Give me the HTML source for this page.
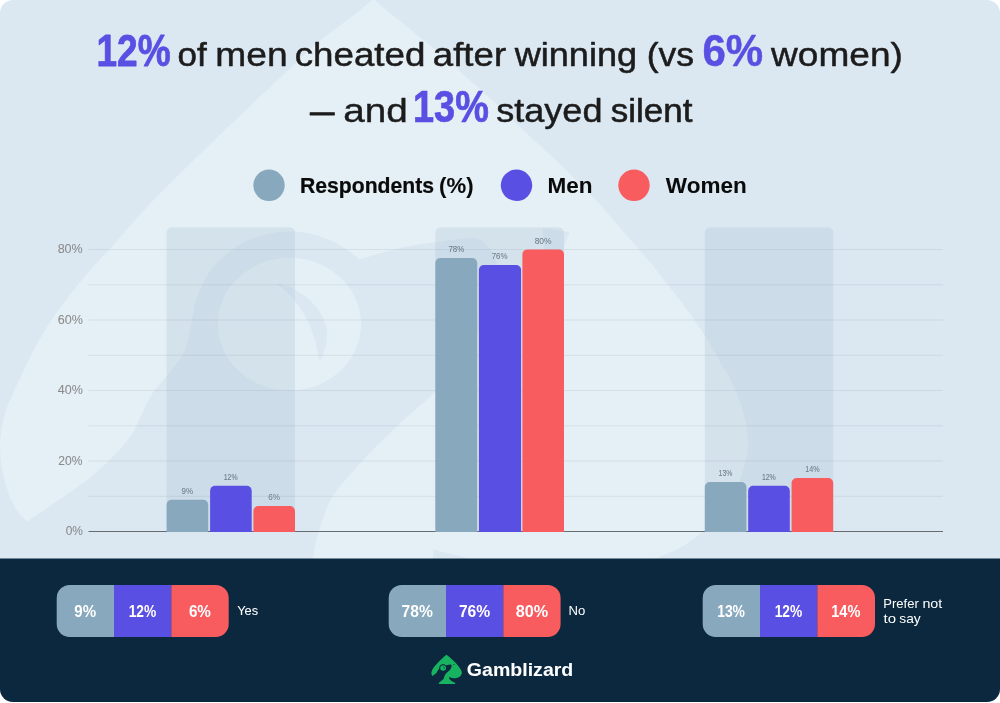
<!DOCTYPE html>
<html lang="en"><head><meta charset="utf-8"><title>Gamblizard survey chart</title>
<style>
html,body{margin:0;padding:0;background:#fff}
body{width:1000px;height:703px;overflow:hidden}
svg{display:block}
text{font-family:"Liberation Sans",sans-serif;stroke-linejoin:round;stroke-width:0}
.t{font-size:33px;fill:#1c1c1c;stroke:#1c1c1c;font-weight:400}
.n{font-size:43.5px;fill:#5a4fe3;stroke:#5a4fe3;font-weight:700}
.lg{font-size:21.6px;font-weight:700;fill:#0a0a0a;stroke:#0a0a0a}
.ax{font-size:13.5px;fill:#8a8a8a;stroke:#8a8a8a}
.bl{font-size:8.9px;fill:#6d7f8d;stroke:#6d7f8d}
.pv{font-size:15.7px;font-weight:700;fill:#fff;stroke:#fff}
.pl{font-size:12.7px;fill:#fff;stroke:#fff}
.brand{font-size:18.2px;font-weight:700;fill:#fff;stroke:#fff}
</style></head>
<body>
<svg width="1000" height="703" viewBox="0 0 1000 703">
<defs><clipPath id="card"><rect x="0" y="0" width="1000" height="702" rx="13" ry="13"/></clipPath></defs>
<g clip-path="url(#card)">
<rect x="0" y="0" width="1000" height="703" fill="#dbe8f2"/>
<g id="wm">
<path fill-rule="evenodd" fill="#e5eff6" d="M373.4 -0.6C377.2 2.5 388.2 11.7 396.0 18.0C403.8 24.3 412.0 30.8 420.0 37.2C428.0 43.6 435.8 49.4 444.0 56.4C452.2 63.4 460.3 71.7 469.0 79.5C477.7 87.3 487.0 95.1 496.0 103.5C505.0 111.9 514.2 121.5 523.2 130.0C532.2 138.6 542.2 147.5 550.0 154.8C557.8 162.1 562.7 166.8 570.0 174.0C577.3 181.2 586.3 189.8 594.0 198.0C601.7 206.2 608.7 214.7 616.0 223.0C623.3 231.3 632.2 241.8 637.6 248.0C643.0 254.2 643.5 254.1 648.4 260.0C653.3 265.9 660.3 275.3 666.8 283.6C673.3 291.9 680.8 301.3 687.2 310.0C693.6 318.7 699.9 327.7 705.2 336.0C710.5 344.3 714.7 352.5 719.0 360.0C723.3 367.5 727.4 373.4 731.1 381.0C734.8 388.6 738.6 396.4 741.4 405.6C744.2 414.8 746.9 427.9 747.8 436.4C748.6 444.9 748.0 449.1 746.5 456.8C745.0 464.5 742.6 473.9 738.8 482.4C734.9 490.9 729.4 499.9 723.4 508.0C717.4 516.1 709.8 524.6 703.0 531.0C696.2 537.4 690.2 542.0 682.5 546.5C674.8 551.0 667.2 553.9 656.8 558.0C646.4 562.1 634.5 567.7 620.0 571.0C605.5 574.3 586.7 577.7 570.0 578.0C553.3 578.3 537.5 576.4 520.0 573.0C502.5 569.6 479.5 561.5 465.0 557.5C450.5 553.5 438.2 550.6 432.8 549.2C433.5 554.3 433.3 569.9 437.0 580.0C440.7 590.1 446.8 600.3 455.0 610.0C463.2 619.7 473.5 629.3 486.0 638.0C498.5 646.7 516.0 655.0 530.0 662.0C544.0 669.0 561.0 675.3 570.0 680.0C579.0 684.7 581.7 688.3 584.0 690.0L584.0 718.7L185.3 718.7L185.3 688.0C191.9 682.5 212.2 665.7 225.0 655.0C237.8 644.3 252.0 631.4 262.0 623.6C272.0 615.8 277.8 614.4 285.0 608.0C292.2 601.6 300.4 593.3 305.0 585.0C309.6 576.7 311.1 564.8 312.8 558.0C314.5 551.2 313.7 550.6 315.4 544.0C317.1 537.4 320.0 526.4 323.0 518.3C326.0 510.2 326.9 504.7 333.3 495.3C339.7 485.9 350.8 473.5 361.5 462.0C372.2 450.5 384.9 437.9 397.3 426.1C409.7 414.4 429.4 397.3 435.8 391.5C443.2 381.2 469.8 348.6 480.0 330.0C490.2 311.4 494.5 291.9 497.0 280.0C499.5 268.1 496.5 264.1 494.8 258.3C493.1 252.6 490.4 248.8 487.0 245.5C483.6 242.2 482.4 238.9 474.3 238.3C466.2 237.7 450.8 240.1 438.4 241.7C426.0 243.3 413.2 245.0 400.0 248.0C386.8 251.0 365.9 257.8 359.1 259.7C357.9 258.6 355.2 255.7 351.7 253.1C348.2 250.5 344.1 247.0 337.9 243.9C331.7 240.8 322.6 236.8 314.5 234.7C306.4 232.6 297.8 231.5 289.5 231.5C281.2 231.5 272.6 232.6 264.5 234.7C256.4 236.8 248.4 239.9 241.2 243.9C234.0 247.9 227.0 253.0 221.1 258.6C215.2 264.2 210.0 270.9 205.8 277.8C201.6 284.7 198.1 294.6 196.1 300.1C194.1 305.7 195.0 304.7 193.7 311.1C192.4 317.5 190.3 330.8 188.3 338.3C186.3 345.8 186.0 349.4 181.9 356.2C177.8 363.0 169.1 372.8 164.0 379.3C158.9 385.8 154.9 389.3 151.1 395.4C147.2 401.5 144.3 409.1 140.9 415.9C137.5 422.7 136.2 428.6 130.6 436.3C125.0 444.0 116.6 453.4 107.6 462.0C98.6 470.6 90.2 477.7 76.8 487.6C63.4 497.5 35.2 515.9 26.9 521.6C25.0 519.3 19.0 514.5 15.4 508.0C11.8 501.5 7.7 492.6 5.1 482.4C2.5 472.2 0.0 458.1 0.0 446.6C0.0 435.1 1.9 424.4 5.1 413.3C8.3 402.2 14.5 390.4 19.2 380.0C23.9 369.6 28.0 360.9 33.3 351.0C38.6 341.1 42.7 332.8 51.2 320.4C59.7 308.0 74.7 288.8 84.5 276.8C94.3 264.9 98.5 261.5 110.0 248.7C121.5 235.9 134.5 219.8 153.7 200.0C172.9 180.2 200.6 153.5 225.0 130.0C249.4 106.5 283.7 74.2 300.0 58.9C316.3 43.6 315.0 45.0 323.0 38.4C331.0 31.8 339.6 26.0 348.0 19.5C356.4 13.0 369.2 2.8 373.4 -0.6ZM542.6 228.2L569.5 232L563 249L545 252ZM217.9 324.1A71.6 66.4 0 1 0 361.1 324.1A71.6 66.4 0 1 0 217.9 324.1ZM276 283.5C300 287 327 309 327 335C327 345 323.5 354 319.6 362C316.5 338 306 304 276 283.5Z"/>
</g>
<g stroke="#4a6070" stroke-opacity="0.11" stroke-width="1">
<line x1="88.5" x2="943" y1="249.5" y2="249.5"/>
<line x1="88.5" x2="943" y1="284.8" y2="284.8"/>
<line x1="88.5" x2="943" y1="320.0" y2="320.0"/>
<line x1="88.5" x2="943" y1="355.3" y2="355.3"/>
<line x1="88.5" x2="943" y1="390.5" y2="390.5"/>
<line x1="88.5" x2="943" y1="425.8" y2="425.8"/>
<line x1="88.5" x2="943" y1="461.0" y2="461.0"/>
<line x1="88.5" x2="943" y1="496.3" y2="496.3"/>
</g>
<g fill="#8aa7bb" fill-opacity="0.18">
<rect x="166.6" y="227.5" width="128.4" height="304" rx="5"/>
<rect x="435.3" y="227.5" width="128.7" height="304" rx="5"/>
<rect x="704.8" y="227.5" width="128.4" height="304" rx="5"/>
</g>
<line x1="88.5" x2="943" y1="531.5" y2="531.5" stroke="#666b70" stroke-width="1.1"/>
<g id="bars">
<path fill="#88a9bd" d="M166.6 532V504.7a5 5 0 0 1 5-5h31.6a5 5 0 0 1 5 5V532z"/>
<path fill="#5a4fe3" d="M210.1 532V490.8a5 5 0 0 1 5-5h31.6a5 5 0 0 1 5 5V532z"/>
<path fill="#f85c5f" d="M253.4 532V511.1a5 5 0 0 1 5-5h31.6a5 5 0 0 1 5 5V532z"/>
<path fill="#88a9bd" d="M435.3 532V263.0a5 5 0 0 1 5-5h31.9a5 5 0 0 1 5 5V532z"/>
<path fill="#5a4fe3" d="M478.9 532V270.0a5 5 0 0 1 5-5h32.2a5 5 0 0 1 5 5V532z"/>
<path fill="#f85c5f" d="M522.4 532V254.4a5 5 0 0 1 5-5h31.6a5 5 0 0 1 5 5V532z"/>
<path fill="#88a9bd" d="M704.8 532V487.0a5 5 0 0 1 5-5h31.6a5 5 0 0 1 5 5V532z"/>
<path fill="#5a4fe3" d="M748.2 532V490.8a5 5 0 0 1 5-5h31.6a5 5 0 0 1 5 5V532z"/>
<path fill="#f85c5f" d="M791.6 532V483.0a5 5 0 0 1 5-5h31.6a5 5 0 0 1 5 5V532z"/>
</g>
<g class="bl">
<text x="181.61" y="494" textLength="11.46" lengthAdjust="spacingAndGlyphs" style="stroke-width:0.09px">9%</text>
<text x="223.73" y="480" textLength="13.85" lengthAdjust="spacingAndGlyphs" style="stroke-width:0.12px">12%</text>
<text x="268.33" y="500" textLength="11.77" lengthAdjust="spacingAndGlyphs" style="stroke-width:0.03px">6%</text>
<text x="448.47" y="252" textLength="15.81" lengthAdjust="spacingAndGlyphs" style="stroke-width:0.08px">78%</text>
<text x="491.71" y="259" textLength="15.89" lengthAdjust="spacingAndGlyphs" style="stroke-width:0.07px">76%</text>
<text x="534.63" y="243.5" textLength="16.89" lengthAdjust="spacingAndGlyphs" style="stroke-width:0.05px">80%</text>
<text x="718.57" y="476" textLength="13.72" lengthAdjust="spacingAndGlyphs" style="stroke-width:0.09px">13%</text>
<text x="761.89" y="480" textLength="13.93" lengthAdjust="spacingAndGlyphs" style="stroke-width:0.12px">12%</text>
<text x="805.30" y="472" textLength="14.35" lengthAdjust="spacingAndGlyphs" style="stroke-width:0.09px">14%</text>
</g>
<g class="ax">
<text x="57.64" y="253.4" textLength="25.07" lengthAdjust="spacingAndGlyphs" style="stroke-width:0.05px">80%</text>
<text x="57.76" y="323.9" textLength="25.15" lengthAdjust="spacingAndGlyphs" style="stroke-width:0.03px">60%</text>
<text x="57.78" y="394.4" textLength="25.09" lengthAdjust="spacingAndGlyphs" style="stroke-width:0.04px">40%</text>
<text x="58.32" y="464.9" textLength="24.19" lengthAdjust="spacingAndGlyphs" style="stroke-width:0.06px">20%</text>
<text x="65.66" y="535.4" textLength="17.26" lengthAdjust="spacingAndGlyphs" style="stroke-width:0.05px">0%</text>
</g>
<text class="t" y="66.3"><tspan class="n" x="96.48" textLength="74.14" lengthAdjust="spacingAndGlyphs" style="stroke-width:0.77px">12%</tspan> <tspan x="177.50" textLength="29.20" lengthAdjust="spacingAndGlyphs" style="stroke-width:0.56px">of</tspan> <tspan x="215.27" textLength="72.34" lengthAdjust="spacingAndGlyphs" style="stroke-width:0.44px">men</tspan> <tspan x="294.66" textLength="130.71" lengthAdjust="spacingAndGlyphs" style="stroke-width:0.50px">cheated</tspan> <tspan x="432.82" textLength="73.29" lengthAdjust="spacingAndGlyphs" style="stroke-width:0.52px">after</tspan> <tspan x="514.66" textLength="122.55" lengthAdjust="spacingAndGlyphs" style="stroke-width:0.51px">winning</tspan> <tspan x="646.81" textLength="47.34" lengthAdjust="spacingAndGlyphs" style="stroke-width:0.55px">(vs</tspan> <tspan class="n" x="702.52" textLength="60.70" lengthAdjust="spacingAndGlyphs" style="stroke-width:0.46px">6%</tspan> <tspan x="771.10" textLength="131.87" lengthAdjust="spacingAndGlyphs" style="stroke-width:0.45px">women)</tspan></text>
<text class="t" y="122.3"><tspan x="310.06" textLength="24.52" lengthAdjust="spacingAndGlyphs" style="stroke-width:0.90px">—</tspan> <tspan x="343.26" textLength="64.59" lengthAdjust="spacingAndGlyphs" style="stroke-width:0.37px">and</tspan> <tspan class="n" x="413.05" textLength="75.83" lengthAdjust="spacingAndGlyphs" style="stroke-width:0.72px">13%</tspan> <tspan x="496.21" textLength="106.28" lengthAdjust="spacingAndGlyphs" style="stroke-width:0.48px">stayed</tspan> <tspan x="610.81" textLength="81.63" lengthAdjust="spacingAndGlyphs" style="stroke-width:0.58px">silent</tspan></text>
<circle cx="269" cy="185.3" r="15.7" fill="#88a9bd"/>
<text class="lg" y="192.5"><tspan x="299.98" textLength="134.12" lengthAdjust="spacingAndGlyphs" style="stroke-width:0.22px">Respondents</tspan> <tspan x="439.09" textLength="34.52" lengthAdjust="spacingAndGlyphs" style="stroke-width:0.05px">(%)</tspan></text>
<circle cx="516.5" cy="185.3" r="15.7" fill="#5a4fe3"/>
<text class="lg" x="547.46" y="192.5" textLength="44.98" lengthAdjust="spacingAndGlyphs" style="stroke-width:0.06px">Men</text>
<circle cx="634" cy="185.3" r="15.7" fill="#f85c5f"/>
<text class="lg" x="665.80" y="192.5" textLength="80.91" lengthAdjust="spacingAndGlyphs" style="stroke-width:0.04px">Women</text>
<rect x="0" y="558.5" width="1000" height="145" fill="#0b283e"/>
<g id="pills">
<path fill="#88a9bd" d="M69.7 585H114v52H69.7a13 13 0 0 1-13-13V598a13 13 0 0 1 13-13z"/>
<rect x="114" y="585" width="57.3" height="52" fill="#5a4fe3"/>
<path fill="#f85c5f" d="M171.3 585H215.7a13 13 0 0 1 13 13V624a13 13 0 0 1-13 13H171.3z"/>
<path fill="#88a9bd" d="M401.7 585H446v52H401.7a13 13 0 0 1-13-13V598a13 13 0 0 1 13-13z"/>
<rect x="446" y="585" width="57.3" height="52" fill="#5a4fe3"/>
<path fill="#f85c5f" d="M503.3 585H547.6a13 13 0 0 1 13 13V624a13 13 0 0 1-13 13H503.3z"/>
<path fill="#88a9bd" d="M715.7 585H760v52H715.7a13 13 0 0 1-13-13V598a13 13 0 0 1 13-13z"/>
<rect x="760" y="585" width="57.3" height="52" fill="#5a4fe3"/>
<path fill="#f85c5f" d="M817.3 585H862.0a13 13 0 0 1 13 13V624a13 13 0 0 1-13 13H817.3z"/>
</g>
<g class="pv">
<text x="74.30" y="616.5" textLength="21.81" lengthAdjust="spacingAndGlyphs">9%</text>
<text x="128.65" y="616.5" textLength="27.57" lengthAdjust="spacingAndGlyphs">12%</text>
<text x="188.89" y="616.5" textLength="22.05" lengthAdjust="spacingAndGlyphs">6%</text>
<text x="401.60" y="616.5" textLength="31.25" lengthAdjust="spacingAndGlyphs">78%</text>
<text x="458.88" y="616.5" textLength="31.33" lengthAdjust="spacingAndGlyphs">76%</text>
<text x="515.87" y="616.5" textLength="32.41" lengthAdjust="spacingAndGlyphs">80%</text>
<text x="717.15" y="616.5" textLength="27.86" lengthAdjust="spacingAndGlyphs">13%</text>
<text x="774.65" y="616.5" textLength="27.57" lengthAdjust="spacingAndGlyphs">12%</text>
<text x="831.17" y="616.5" textLength="29.20" lengthAdjust="spacingAndGlyphs">14%</text>
</g>
<g class="pl">
<text x="237.15" y="614.8" textLength="20.93" lengthAdjust="spacingAndGlyphs" style="stroke-width:0.04px">Yes</text>
<text x="568.62" y="614.8" textLength="16.78" lengthAdjust="spacingAndGlyphs">No</text>
<text><tspan x="883.29" y="608" textLength="35.45" lengthAdjust="spacingAndGlyphs">Prefer</tspan> <tspan x="922.43" y="608" textLength="19.86" lengthAdjust="spacingAndGlyphs">not</tspan> <tspan x="883.56" y="623" textLength="12.49" lengthAdjust="spacingAndGlyphs">to</tspan> <tspan x="899.33" y="623" textLength="21.44" lengthAdjust="spacingAndGlyphs">say</tspan></text>
</g>
<text class="brand" x="466.86" y="675.8" textLength="106.43" lengthAdjust="spacingAndGlyphs" style="stroke-width:0.04px">Gamblizard</text>
<g id="logo" transform="translate(446.6 654.8) scale(0.04065) translate(-373.8 0)">
<path fill-rule="evenodd" fill="#17b360" d="M373.4 -0.6C377.2 2.5 388.2 11.7 396.0 18.0C403.8 24.3 412.0 30.8 420.0 37.2C428.0 43.6 435.8 49.4 444.0 56.4C452.2 63.4 460.3 71.7 469.0 79.5C477.7 87.3 487.0 95.1 496.0 103.5C505.0 111.9 514.2 121.5 523.2 130.0C532.2 138.6 542.2 147.5 550.0 154.8C557.8 162.1 562.7 166.8 570.0 174.0C577.3 181.2 586.3 189.8 594.0 198.0C601.7 206.2 608.7 214.7 616.0 223.0C623.3 231.3 632.2 241.8 637.6 248.0C643.0 254.2 643.5 254.1 648.4 260.0C653.3 265.9 660.3 275.3 666.8 283.6C673.3 291.9 680.8 301.3 687.2 310.0C693.6 318.7 699.9 327.7 705.2 336.0C710.5 344.3 714.7 352.5 719.0 360.0C723.3 367.5 727.4 373.4 731.1 381.0C734.8 388.6 738.6 396.4 741.4 405.6C744.2 414.8 746.9 427.9 747.8 436.4C748.6 444.9 748.0 449.1 746.5 456.8C745.0 464.5 742.6 473.9 738.8 482.4C734.9 490.9 729.4 499.9 723.4 508.0C717.4 516.1 709.8 524.6 703.0 531.0C696.2 537.4 690.2 542.0 682.5 546.5C674.8 551.0 667.2 553.9 656.8 558.0C646.4 562.1 634.5 567.7 620.0 571.0C605.5 574.3 586.7 577.7 570.0 578.0C553.3 578.3 537.5 576.4 520.0 573.0C502.5 569.6 479.5 561.5 465.0 557.5C450.5 553.5 438.2 550.6 432.8 549.2C433.5 554.3 433.3 569.9 437.0 580.0C440.7 590.1 446.8 600.3 455.0 610.0C463.2 619.7 473.5 629.3 486.0 638.0C498.5 646.7 516.0 655.0 530.0 662.0C544.0 669.0 561.0 675.3 570.0 680.0C579.0 684.7 581.7 688.3 584.0 690.0L584.0 718.7L185.3 718.7L185.3 688.0C191.9 682.5 212.2 665.7 225.0 655.0C237.8 644.3 252.0 631.4 262.0 623.6C272.0 615.8 277.8 614.4 285.0 608.0C292.2 601.6 300.4 593.3 305.0 585.0C309.6 576.7 311.1 564.8 312.8 558.0C314.5 551.2 313.7 550.6 315.4 544.0C317.1 537.4 320.0 526.4 323.0 518.3C326.0 510.2 326.9 504.7 333.3 495.3C339.7 485.9 350.8 473.5 361.5 462.0C372.2 450.5 384.9 437.9 397.3 426.1C409.7 414.4 429.4 397.3 435.8 391.5C443.2 381.2 469.8 348.6 480.0 330.0C490.2 311.4 494.5 291.9 497.0 280.0C499.5 268.1 496.5 264.1 494.8 258.3C493.1 252.6 490.4 248.8 487.0 245.5C483.6 242.2 482.4 238.9 474.3 238.3C466.2 237.7 450.8 240.1 438.4 241.7C426.0 243.3 413.2 245.0 400.0 248.0C386.8 251.0 365.9 257.8 359.1 259.7C357.9 258.6 355.2 255.7 351.7 253.1C348.2 250.5 344.1 247.0 337.9 243.9C331.7 240.8 322.6 236.8 314.5 234.7C306.4 232.6 297.8 231.5 289.5 231.5C281.2 231.5 272.6 232.6 264.5 234.7C256.4 236.8 248.4 239.9 241.2 243.9C234.0 247.9 227.0 253.0 221.1 258.6C215.2 264.2 210.0 270.9 205.8 277.8C201.6 284.7 198.1 294.6 196.1 300.1C194.1 305.7 195.0 304.7 193.7 311.1C192.4 317.5 190.3 330.8 188.3 338.3C186.3 345.8 186.0 349.4 181.9 356.2C177.8 363.0 169.1 372.8 164.0 379.3C158.9 385.8 154.9 389.3 151.1 395.4C147.2 401.5 144.3 409.1 140.9 415.9C137.5 422.7 136.2 428.6 130.6 436.3C125.0 444.0 116.6 453.4 107.6 462.0C98.6 470.6 90.2 477.7 76.8 487.6C63.4 497.5 35.2 515.9 26.9 521.6C25.0 519.3 19.0 514.5 15.4 508.0C11.8 501.5 7.7 492.6 5.1 482.4C2.5 472.2 0.0 458.1 0.0 446.6C0.0 435.1 1.9 424.4 5.1 413.3C8.3 402.2 14.5 390.4 19.2 380.0C23.9 369.6 28.0 360.9 33.3 351.0C38.6 341.1 42.7 332.8 51.2 320.4C59.7 308.0 74.7 288.8 84.5 276.8C94.3 264.9 98.5 261.5 110.0 248.7C121.5 235.9 134.5 219.8 153.7 200.0C172.9 180.2 200.6 153.5 225.0 130.0C249.4 106.5 283.7 74.2 300.0 58.9C316.3 43.6 315.0 45.0 323.0 38.4C331.0 31.8 339.6 26.0 348.0 19.5C356.4 13.0 369.2 2.8 373.4 -0.6ZM542.6 228.2L569.5 232L563 249L545 252ZM217.9 324.1A71.6 66.4 0 1 0 361.1 324.1A71.6 66.4 0 1 0 217.9 324.1ZM276 283.5C300 287 327 309 327 335C327 345 323.5 354 319.6 362C316.5 338 306 304 276 283.5Z"/>
</g>
</g>
</svg>
</body></html>
